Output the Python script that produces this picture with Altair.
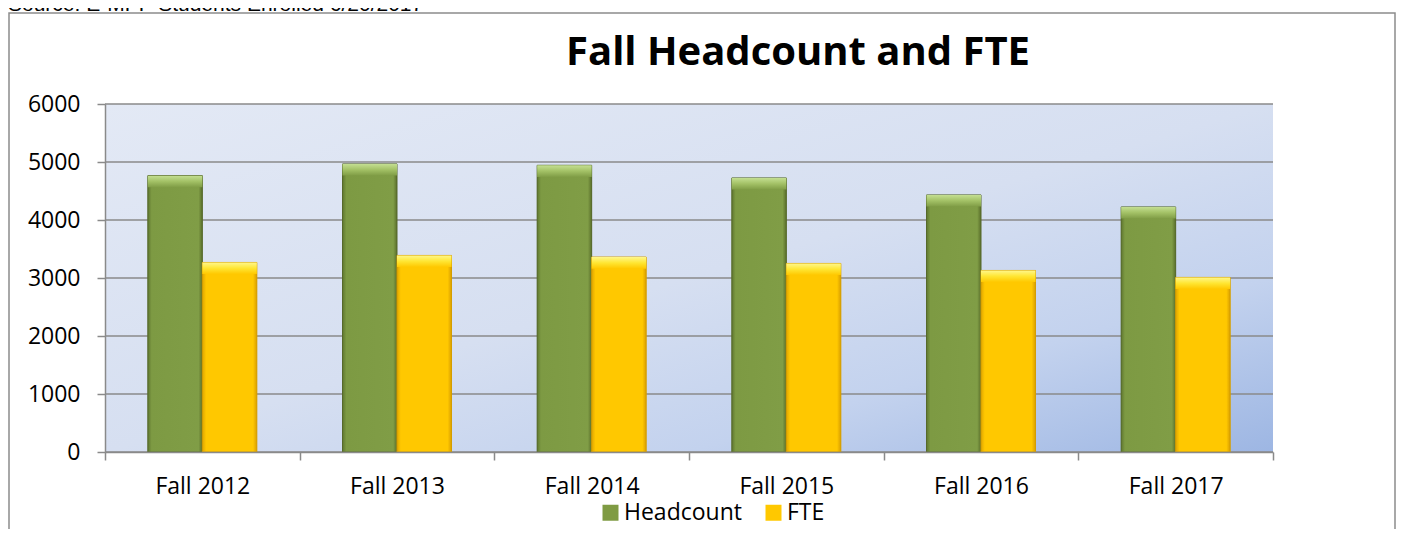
import altair as alt
import pandas as pd

# ---------------- data ----------------
years = ["Fall 2012", "Fall 2013", "Fall 2014", "Fall 2015", "Fall 2016", "Fall 2017"]
headcount = [4765, 4967, 4943, 4725, 4432, 4225]
fte = [3268, 3389, 3361, 3251, 3130, 3010]
series = ["Headcount", "FTE"]
y_ticks = [0, 1000, 2000, 3000, 4000, 5000, 6000]
title_text = "Fall Headcount and FTE"
source_text = "Source: E-MPP Students Enrolled 6/20/2017"

rows = []
for i, yr in enumerate(years):
    rows.append({"year": yr, "series": "Headcount", "v": headcount[i]})
    rows.append({"year": yr, "series": "FTE", "v": fte[i]})
df = pd.DataFrame(rows)
grid_df = pd.DataFrame({"v": y_ticks})
title_df = pd.DataFrame({"t": [title_text]})
source_df = pd.DataFrame({"t": [source_text]})
one_df = pd.DataFrame({"a": [0]})

W, H = 1168, 348
FONT = "Open Sans"
AX = "#8a8a8a"


def grad(stops, vertical=False):
    return alt.LinearGradient(
        gradient="linear",
        stops=[alt.GradientStop(color=c, offset=o) for o, c in stops],
        x1=0, y1=0,
        x2=0 if vertical else 1,
        y2=1 if vertical else 0,
    )


bg_grad = alt.LinearGradient(
    gradient="linear",
    stops=[
        alt.GradientStop(color="#e3e9f5", offset=0),
        alt.GradientStop(color="#d6dff1", offset=0.5),
        alt.GradientStop(color="#c3d2ee", offset=0.75),
        alt.GradientStop(color="#9db6e3", offset=1),
    ],
    x1=0, y1=0, x2=1, y2=1,
)

green_body = grad([(0, "#5f772f"), (0.07, "#7d9a43"), (0.93, "#809d46"), (1, "#5a6f2b")])
yellow_body = grad([(0, "#e0a600"), (0.07, "#ffc800"), (0.93, "#ffc800"), (1, "#d99f00")])
green_top = grad([(0, "#c4df92"), (0.5, "#a3c166"), (1, "#809d46")], vertical=True)
yellow_top = grad([(0, "#fff78a"), (0.5, "#ffe633"), (1, "#ffc800")], vertical=True)

x_scale = alt.Scale(domain=years, paddingInner=0, paddingOuter=0)
xo_scale = alt.Scale(domain=series, paddingInner=0, paddingOuter=0.786)
y_scale = alt.Scale(domain=[0, 6000], nice=False)

x_axis = alt.Axis(
    title=None, labelAngle=0, labelFont=FONT, labelFontSize=23, labelColor="#000000",
    labelPadding=15, tickBand="extent", tickSize=8, tickColor=AX, tickWidth=1.5,
    domainColor=AX, domainWidth=1.5, grid=False, zindex=1,
)
y_axis = alt.Axis(
    title=None, values=y_ticks, format="d", labelFont=FONT, labelFontSize=23,
    labelColor="#000000", labelPadding=17, tickSize=8, tickColor=AX, tickWidth=1.5,
    domainColor=AX, domainWidth=1.5, grid=False, zindex=1,
)

X = alt.X("year:N", scale=x_scale, axis=x_axis)
Y = alt.Y("v:Q", scale=y_scale, axis=y_axis)
XO = alt.XOffset("series:N", scale=xo_scale)

bg = alt.Chart(one_df).mark_rect(fill=bg_grad).encode(
    x=alt.value(0), x2=alt.value(W), y=alt.value(0), y2=alt.value(H)
)

grid = alt.Chart(grid_df).mark_rule(color=AX, strokeWidth=1.5).encode(y=Y)

base_bars = alt.Chart(df).mark_bar().encode(
    x=X,
    xOffset=XO,
    y=Y,
    color=alt.Color(
        "series:N",
        scale=alt.Scale(domain=series, range=["#7f9b43", "#ffc800"]),
        legend=alt.Legend(
            title=None, orient="none", legendX=494, legendY=397, direction="horizontal",
            symbolType="square", symbolSize=256, symbolStrokeWidth=0,
            labelFont=FONT, labelFontSize=23, labelColor="#000000",
            columnPadding=20, labelOffset=2, padding=0,
        ),
    ),
)


def body(name, fill, stroke):
    return alt.Chart(df).transform_filter(alt.datum.series == name).mark_bar(
        fill=fill, stroke=stroke, strokeWidth=1
    ).encode(x=X, xOffset=XO, y=Y)


def bevel(name, fill):
    return alt.Chart(df).transform_filter(alt.datum.series == name).transform_calculate(
        vt="datum.v - 200"
    ).mark_bar(fill=fill).encode(x=X, xOffset=XO, y=Y, y2="vt:Q")


frame = alt.Chart(one_df).mark_rect(fillOpacity=0, stroke="#8c8c8c", strokeWidth=1.5).encode(
    x=alt.value(-96), x2=alt.value(1290), y=alt.value(-91), y2=alt.value(470)
)

title = alt.Chart(title_df).mark_text(
    font=FONT, fontSize=40, fontWeight="bold", align="center", baseline="alphabetic", color="#000000"
).encode(x=alt.value(693), y=alt.value(-39), text="t:N")

source = alt.Chart(source_df).mark_text(
    font="Liberation Sans", fontSize=21, align="left", baseline="alphabetic", color="#000000"
).encode(x=alt.value(-97), y=alt.value(-93), text="t:N")

chart = alt.layer(
    bg, grid, base_bars,
    body("Headcount", green_body, "#56692b"),
    body("FTE", yellow_body, "#d49d00"),
    bevel("Headcount", green_top),
    bevel("FTE", yellow_top),
    frame, title, source,
).properties(
    width=W, height=H,
    autosize=alt.AutoSizeParams(type="none"),
    padding={"left": 97, "top": 96, "right": 123, "bottom": 77},
    background="white",
).configure_view(stroke=None)

chart.save("out.html", embed_options={"renderer": "svg", "actions": False})
